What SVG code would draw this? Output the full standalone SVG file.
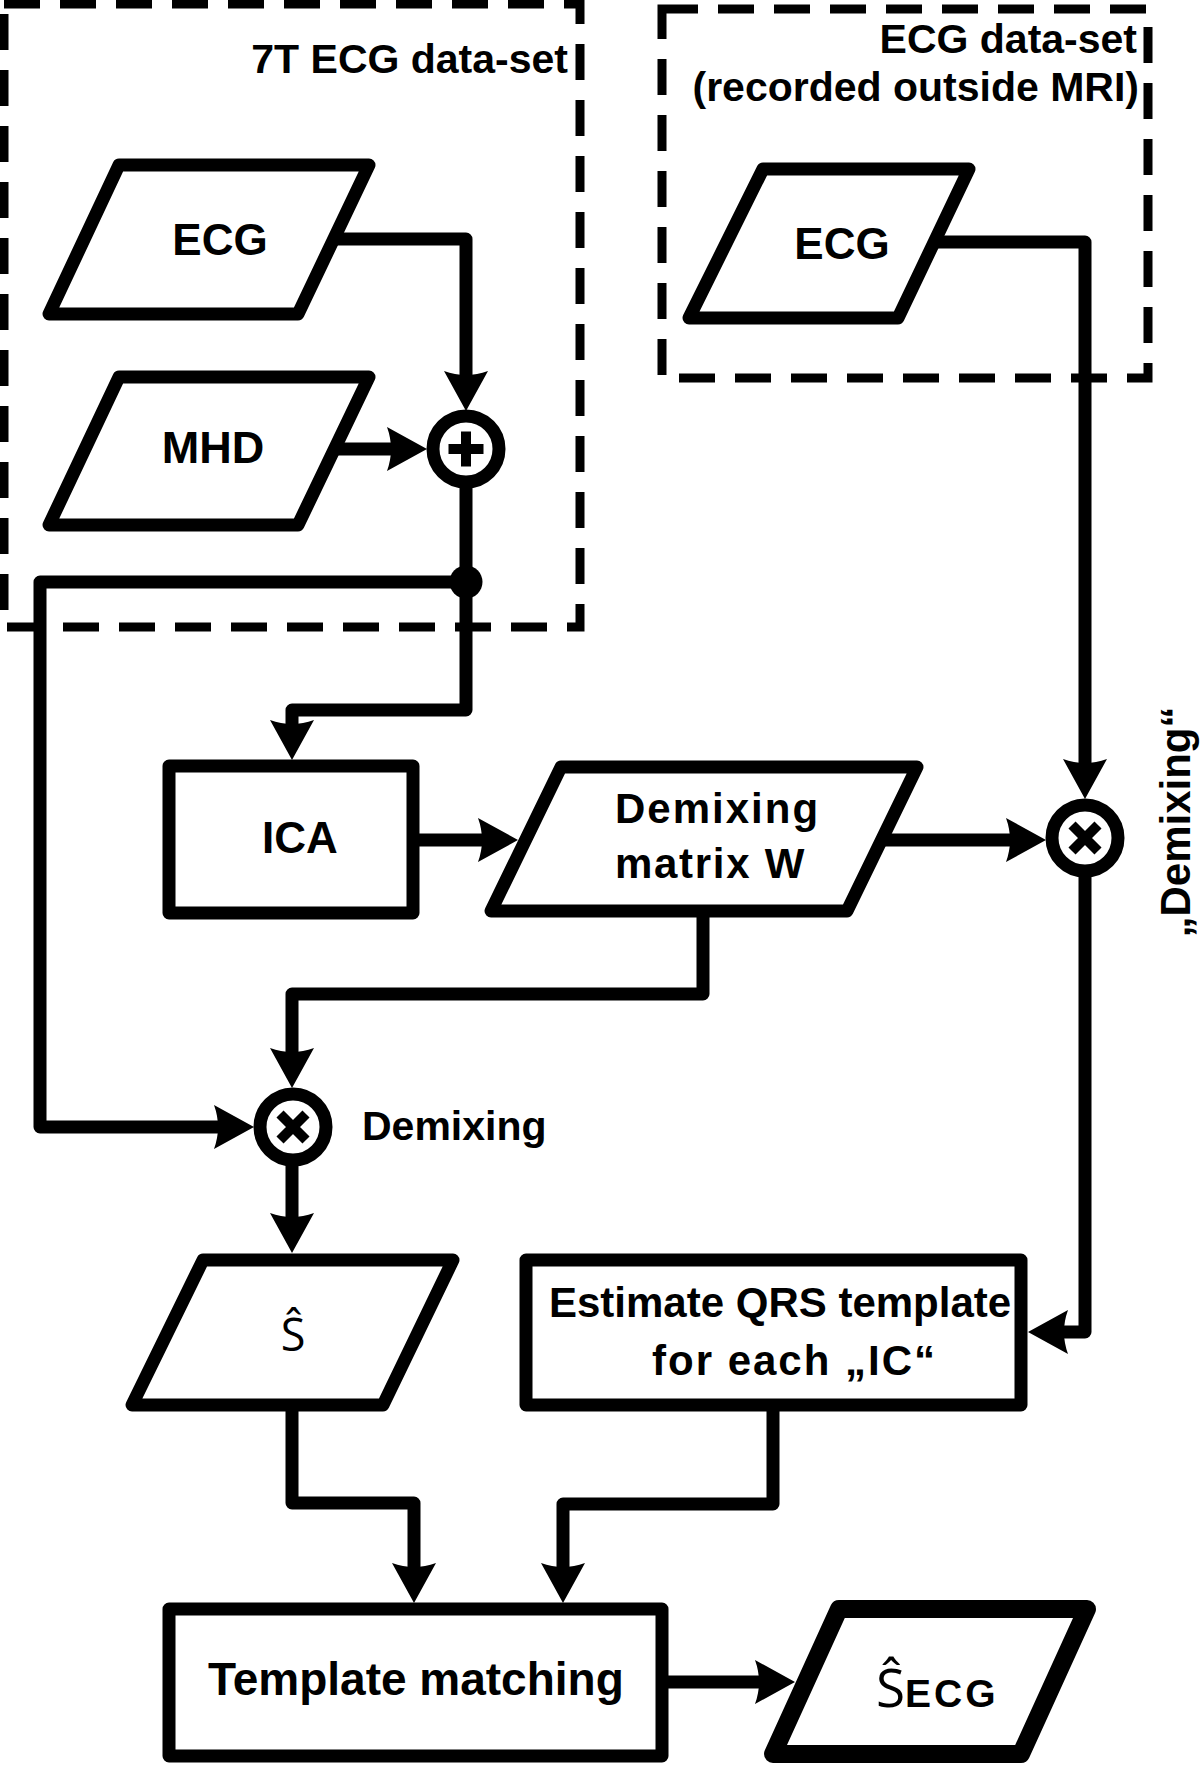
<svg xmlns="http://www.w3.org/2000/svg" width="1200" height="1765" viewBox="0 0 1200 1765">
<style>
.dash{fill:none;stroke:#000;stroke-width:9;stroke-dasharray:36 20}
.shape{fill:#fff;stroke:#000;stroke-width:13;stroke-linejoin:round}
.thick{stroke-width:18}
.conn{fill:none;stroke:#000;stroke-width:13;stroke-linejoin:round;marker-end:url(#ah)}
.sym{stroke:#000;stroke-width:10;fill:none}
.t{font-family:"Liberation Sans",Arial,Helvetica,sans-serif;font-weight:bold;fill:#000}
.m{text-anchor:middle}
.e{text-anchor:end}
.hat{font-family:"Open Sans","Liberation Sans",sans-serif;font-weight:normal;fill:#000}
</style>
<defs>
<marker id="ah" markerUnits="userSpaceOnUse" orient="auto" overflow="visible" refX="0" refY="0" markerWidth="1" markerHeight="1">
<path d="M20,0 L-20,-22 Q-12,0 -20,22 Z" fill="#000"/>
</marker>
</defs>
<rect width="1200" height="1765" fill="#fff"/>
<g id="group-7t">
<rect class="dash" x="4" y="4" width="576" height="623"/>
<text class="t e" x="568" y="73" font-size="41">7T ECG data-set</text>
</g>
<g id="group-outside">
<rect class="dash" x="662" y="9" width="486" height="369"/>
<text class="t e" x="1137" y="53" font-size="41">ECG data-set</text>
<text class="t e" x="1139" y="101" font-size="41">(recorded outside MRI)</text>
</g>
<g id="connectors">
<path class="conn" d="M334,239 H466 V391"/>
<path class="conn" d="M334,449 H407"/>
<path class="conn" d="M466,482 V710 H292 V740"/>
<path class="conn" d="M466,582 H40 V1127 H234"/>
<path class="conn" d="M413,840 H498"/>
<path class="conn" d="M883,840 H1026"/>
<path class="conn" d="M934,242 H1085 V779"/>
<path class="conn" d="M1085,877 V1332 H1048"/>
<path class="conn" d="M703,911 V994 H292 V1068"/>
<path class="conn" d="M292,1166 V1233"/>
<path class="conn" d="M292,1405 V1503 H414 V1583"/>
<path class="conn" d="M773,1405 V1504 H563 V1583"/>
<path class="conn" d="M662,1682 H775"/>
<circle cx="466" cy="582" r="16.5" fill="#000"/>
</g>
<g id="ecg-7t">
<polygon class="shape" points="119,165 369,165 298,314 49,314"/>
<text class="t m" x="220" y="255" font-size="44">ECG</text>
</g>
<g id="mhd">
<polygon class="shape" points="119,377 369,377 298,525 49,525"/>
<text class="t m" x="213" y="463" font-size="45">MHD</text>
</g>
<g id="ecg-outside">
<polygon class="shape" points="763,169 969,169 898,318 689,318"/>
<text class="t m" x="842" y="259" font-size="44">ECG</text>
</g>
<g id="sum">
<circle class="shape" cx="466" cy="449" r="33"/>
<path class="sym" d="M448.5,449 H483.5 M466,431.5 V466.5"/>
</g>
<g id="ica">
<rect class="shape" x="169" y="766" width="244" height="147"/>
<text class="t m" x="300" y="853" font-size="44">ICA</text>
</g>
<g id="demixing-matrix">
<polygon class="shape" points="561,767 917,767 847,911 491,911"/>
<text class="t" x="615" y="823" font-size="42" letter-spacing="2">Demixing</text>
<text class="t" x="615" y="878" font-size="42" letter-spacing="1.7">matrix W</text>
</g>
<g id="demix-outside">
<circle class="shape" cx="1085" cy="838" r="33"/>
<path class="sym" d="M1072,825 L1098,851 M1098,825 L1072,851"/>
<text class="t m" x="0" y="0" font-size="42" transform="translate(1190,822) rotate(-90)">„Demixing“</text>
</g>
<g id="demix-7t">
<circle class="shape" cx="293" cy="1127" r="33"/>
<path class="sym" d="M280,1114 L306,1140 M306,1114 L280,1140"/>
<text class="t" x="362" y="1140" font-size="41">Demixing</text>
</g>
<g id="s-hat">
<polygon class="shape" points="203,1260 453,1260 383,1405 132,1405"/>
<text class="hat m" x="293" y="1351" font-size="45">Ŝ</text>
</g>
<g id="estimate">
<rect class="shape" x="526" y="1260" width="495" height="145"/>
<text class="t" x="549" y="1317" font-size="42">Estimate QRS template</text>
<text class="t" x="652" y="1375" font-size="42" textLength="283">for each „IC“</text>
</g>
<g id="template-matching">
<rect class="shape" x="169" y="1609" width="493" height="147"/>
<text class="t" x="208" y="1695" font-size="46">Template matching</text>
</g>
<g id="s-ecg">
<polygon class="shape thick" points="839,1609 1087,1609 1021,1754 773,1754"/>
<text x="876" y="1707"><tspan class="hat" font-size="53">Ŝ</tspan><tspan class="t" font-size="39" letter-spacing="3">ECG</tspan></text>
</g>
</svg>
